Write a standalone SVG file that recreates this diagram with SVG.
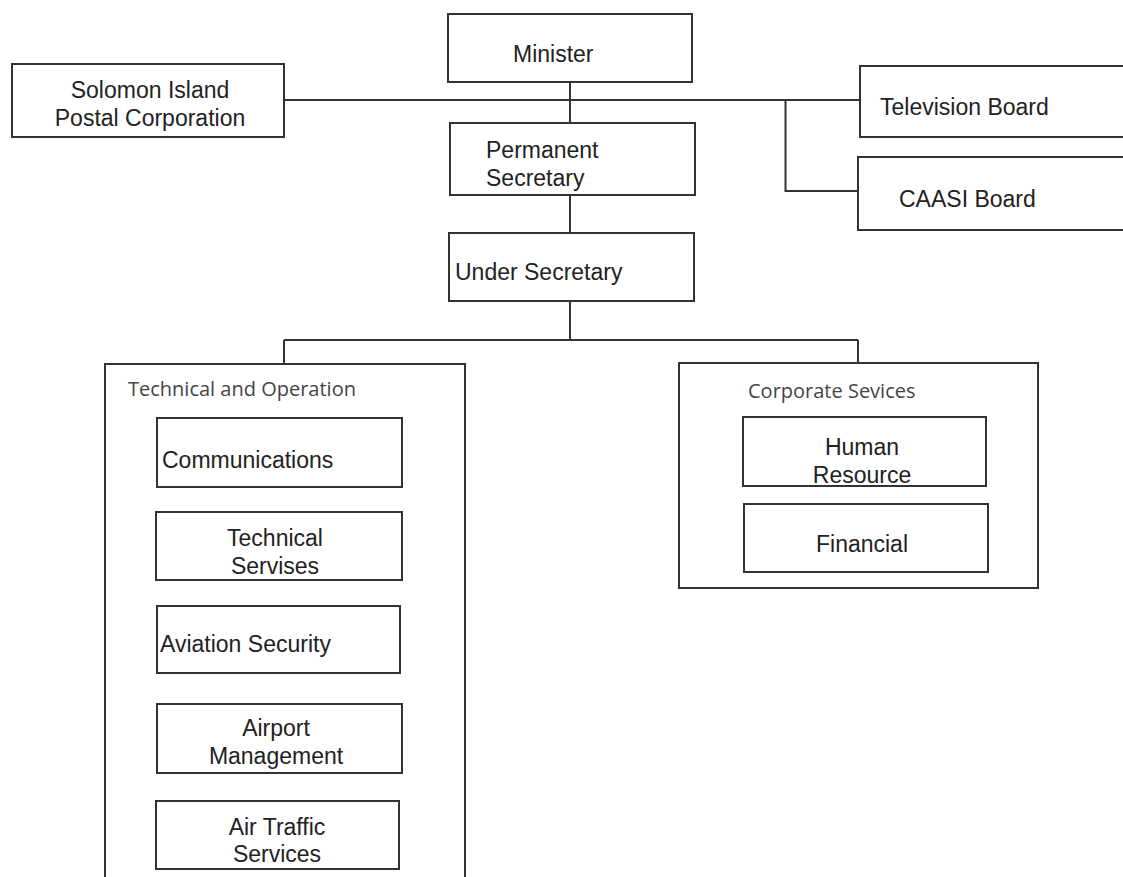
<svg xmlns="http://www.w3.org/2000/svg" width="1123" height="877" viewBox="0 0 1123 877">
<style>
.box{fill:#fff;stroke:#333;stroke-width:2}
.ln{fill:none;stroke:#333;stroke-width:2}
.t{font-family:"Liberation Sans",Arial,sans-serif;font-size:23px;fill:#222}
.m{text-anchor:middle}
.g{font-family:"Open Sans","Noto Sans",sans-serif;font-size:20px;fill:#444}
</style>
<rect width="1123" height="877" fill="#fff"/>
<g id="connectors">
<path class="ln" d="M284 100 H860 M570 82 V123 M570 195 V233 M570 301 V340 M785.5 100 V191 H858 M284 340 H858 M284 340 V364 M858 340 V363"/>
</g>
<g id="minister"><rect class="box" x="448" y="14" width="244" height="68"/><text class="t" x="513" y="62">Minister</text></g>
<g id="postal"><rect class="box" x="12" y="64" width="272" height="73"/><text class="t m" x="150" y="98">Solomon Island</text><text class="t m" x="150" y="126">Postal Corporation</text></g>
<g id="tv"><rect class="box" x="860" y="66" width="290" height="71"/><text class="t" x="880" y="115">Television Board</text></g>
<g id="caasi"><rect class="box" x="858" y="157" width="290" height="73"/><text class="t" x="899" y="207">CAASI Board</text></g>
<g id="permsec"><rect class="box" x="450" y="123" width="245" height="72"/><text class="t" x="486" y="158">Permanent</text><text class="t" x="486" y="186">Secretary</text></g>
<g id="undersec"><rect class="box" x="449" y="233" width="245" height="68"/><text class="t" x="455" y="280">Under Secretary</text></g>
<g id="techop"><rect class="box" x="105" y="364" width="360" height="540"/><text class="g" x="128" y="396">Technical and Operation</text></g>
<g id="comms"><rect class="box" x="157" y="418" width="245" height="69"/><text class="t" x="162" y="468">Communications</text></g>
<g id="techserv"><rect class="box" x="156" y="512" width="246" height="68"/><text class="t m" x="275" y="546">Technical</text><text class="t m" x="275" y="574">Servises</text></g>
<g id="avsec"><rect class="box" x="157" y="606" width="243" height="67"/><text class="t" x="160" y="652">Aviation Security</text></g>
<g id="airport"><rect class="box" x="157" y="704" width="245" height="69"/><text class="t m" x="276" y="736">Airport</text><text class="t m" x="276" y="764">Management</text></g>
<g id="atc"><rect class="box" x="156" y="801" width="243" height="68"/><text class="t m" x="277" y="835">Air Traffic</text><text class="t m" x="277" y="862">Services</text></g>
<g id="corp"><rect class="box" x="679" y="363" width="359" height="225"/><text class="g" x="748" y="398">Corporate Sevices</text></g>
<g id="hr"><rect class="box" x="743" y="417" width="243" height="69"/><text class="t m" x="862" y="455">Human</text><text class="t m" x="862" y="483">Resource</text></g>
<g id="fin"><rect class="box" x="744" y="504" width="244" height="68"/><text class="t m" x="862" y="552">Financial</text></g>
</svg>
